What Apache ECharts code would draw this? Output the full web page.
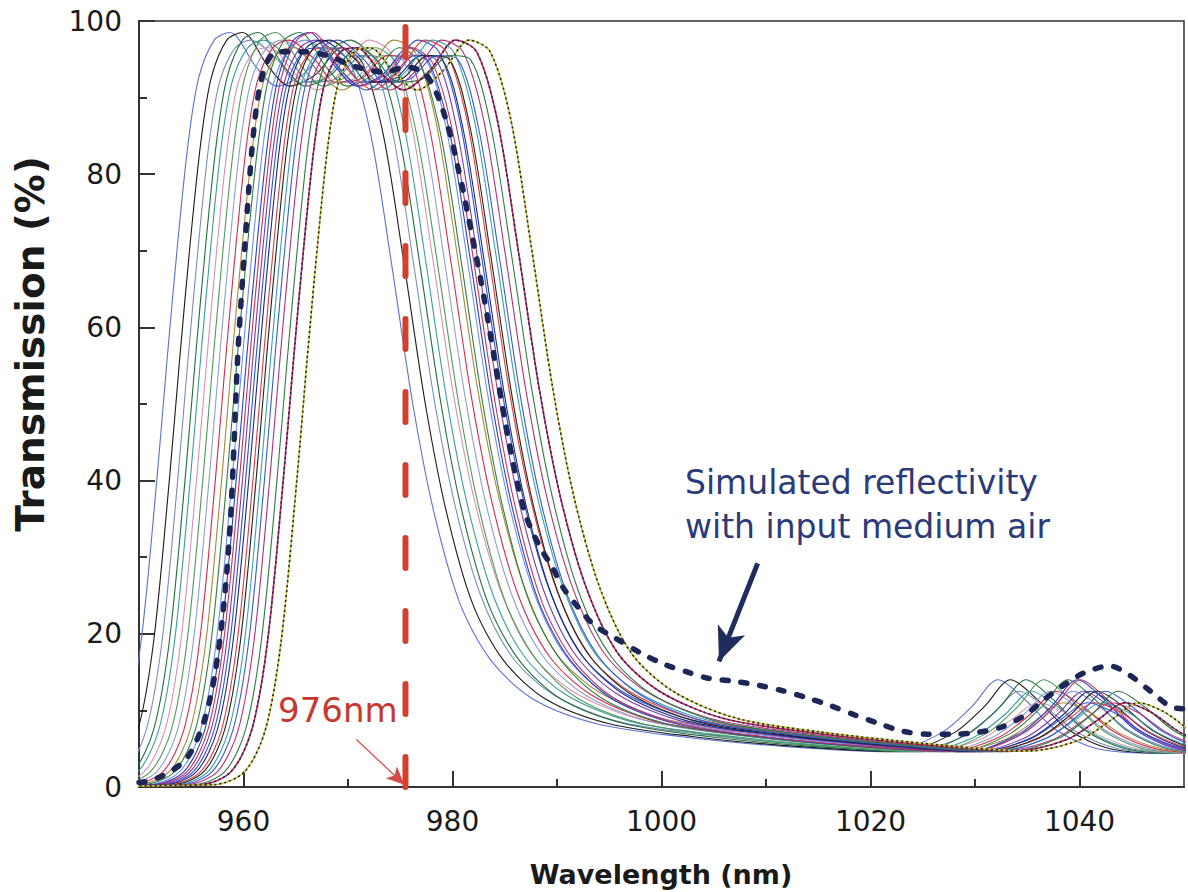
<!DOCTYPE html>
<html><head><meta charset="utf-8">
<script src="https://cdn.jsdelivr.net/npm/echarts@6/dist/echarts.min.js"></script>
<style>html,body{margin:0;padding:0;background:#fff}#c{width:1188px;height:892px}</style>
</head><body><div id="c"></div>
<script>
// Transmission profiles (T, %), three shape variants
const tA = [0.1, 0.3, 2, 7.5, 19, 40, 56, 71, 84, 92.5, 97.5, 98.5, 94, 91.5, 93, 96.5, 94.5, 85, 68, 50, 36, 24, 16.5, 11.5, 8.3, 6.6, 5.3, 4.6, 7, 10.5, 14, 11.5, 7.5, 5, 4.4, 4.5];
const tB = [0.1, 0.3, 2, 7.5, 19, 40, 56, 71, 84, 92, 96.5, 97.5, 95, 92, 92.5, 95.5, 95, 86, 69, 51, 37, 25, 17, 12, 8.6, 6.9, 5.5, 4.6, 6.5, 9.5, 12.5, 10.5, 7.2, 5, 4.4, 4.5];
const tC = [0.1, 0.3, 2, 7.5, 19, 40, 56, 71, 84, 92, 96, 96.5, 93, 91, 93.5, 97.5, 96, 87, 70, 52, 38, 26, 17.5, 12.5, 9, 7.2, 5.7, 4.7, 6.2, 8.8, 11, 9.8, 7, 5, 4.4, 4.5];

// Wavelengths (nm) of each measured curve at the profile points
const lam01 = [940, 943.7, 946.7, 948.7, 950.2, 951.7, 952.7, 953.7, 954.7, 955.7, 957.2, 958.7, 961.2, 963.2, 965.7, 968.2, 970.2, 972.2, 974.2, 976.2, 978.2, 980.7, 983.7, 987.7, 993.7, 1001.7, 1011.7, 1021.7, 1026.7, 1029.7, 1032.2, 1034.7, 1037.7, 1041.7, 1047.7, 1065];
const lam02 = [940, 944.9, 947.9, 949.9, 951.4, 952.9, 953.9, 954.9, 955.9, 956.9, 958.4, 959.9, 962.4, 964.4, 966.9, 969.4, 971.4, 973.4, 975.4, 977.4, 979.4, 981.9, 984.9, 988.9, 994.9, 1002.9, 1012.9, 1022.9, 1027.9, 1030.9, 1033.4, 1035.9, 1038.9, 1042.9, 1048.9, 1065];
const lam03 = [940, 945.7, 948.7, 950.7, 952.2, 953.7, 954.7, 955.7, 956.7, 957.7, 959.2, 960.7, 963.2, 965.2, 967.7, 970.2, 972.2, 974.2, 976.2, 978.2, 980.2, 982.7, 985.7, 989.7, 995.7, 1003.7, 1013.7, 1023.7, 1028.7, 1031.7, 1034.2, 1036.7, 1039.7, 1043.7, 1049.7, 1065];
const lam04 = [940, 946.4, 949.4, 951.4, 952.9, 954.4, 955.4, 956.4, 957.4, 958.4, 959.9, 961.4, 963.9, 965.9, 968.4, 970.9, 972.9, 974.9, 976.9, 978.9, 980.9, 983.4, 986.4, 990.4, 996.4, 1004.4, 1014.4, 1024.4, 1029.4, 1032.4, 1034.9, 1037.4, 1040.4, 1044.4, 1050.4, 1065];
const lam05 = [940, 946.9, 949.9, 951.9, 953.4, 954.9, 955.9, 956.9, 957.9, 958.9, 960.4, 961.9, 964.4, 966.4, 968.9, 971.4, 973.4, 975.4, 977.4, 979.4, 981.4, 983.9, 986.9, 990.9, 996.9, 1004.9, 1014.9, 1024.9, 1029.9, 1032.9, 1035.4, 1037.9, 1040.9, 1044.9, 1050.9, 1065];
const lam06 = [940, 947.5, 950.5, 952.5, 954.0, 955.5, 956.5, 957.5, 958.5, 959.5, 961.0, 962.5, 965.0, 967.0, 969.5, 972.0, 974.0, 976.0, 978.0, 980.0, 982.0, 984.5, 987.5, 991.5, 997.5, 1005.5, 1015.5, 1025.5, 1030.5, 1033.5, 1036.0, 1038.5, 1041.5, 1045.5, 1051.5, 1065];
const lam07 = [940, 948.1, 951.1, 953.1, 954.6, 956.1, 957.1, 958.1, 959.1, 960.1, 961.6, 963.1, 965.6, 967.6, 970.1, 972.6, 974.6, 976.6, 978.6, 980.6, 982.6, 985.1, 988.1, 992.1, 998.1, 1006.1, 1016.1, 1026.1, 1031.1, 1034.1, 1036.6, 1039.1, 1042.1, 1046.1, 1052.1, 1065];
const lam08 = [940, 948.7, 951.7, 953.7, 955.2, 956.7, 957.7, 958.7, 959.7, 960.7, 962.2, 963.7, 966.2, 968.2, 970.7, 973.2, 975.2, 977.2, 979.2, 981.2, 983.2, 985.7, 988.7, 992.7, 998.7, 1006.7, 1016.7, 1026.7, 1031.7, 1034.7, 1037.2, 1039.7, 1042.7, 1046.7, 1052.7, 1065];
const lam09 = [940, 949.3, 952.3, 954.3, 955.8, 957.3, 958.3, 959.3, 960.3, 961.3, 962.8, 964.3, 966.8, 968.8, 971.3, 973.8, 975.8, 977.8, 979.8, 981.8, 983.8, 986.3, 989.3, 993.3, 999.3, 1007.3, 1017.3, 1027.3, 1032.3, 1035.3, 1037.8, 1040.3, 1043.3, 1047.3, 1053.3, 1065];
const lam10 = [940, 949.9, 952.9, 954.9, 956.4, 957.9, 958.9, 959.9, 960.9, 961.9, 963.4, 964.9, 967.4, 969.4, 971.9, 974.4, 976.4, 978.4, 980.4, 982.4, 984.4, 986.9, 989.9, 993.9, 999.9, 1007.9, 1017.9, 1027.9, 1032.9, 1035.9, 1038.4, 1040.9, 1043.9, 1047.9, 1053.9, 1065];
const lam11 = [940, 950.4, 953.4, 955.4, 956.9, 958.4, 959.4, 960.4, 961.4, 962.4, 963.9, 965.4, 967.9, 969.9, 972.4, 974.9, 976.9, 978.9, 980.9, 982.9, 984.9, 987.4, 990.4, 994.4, 1000.4, 1008.4, 1018.4, 1028.4, 1033.4, 1036.4, 1038.9, 1041.4, 1044.4, 1048.4, 1054.4, 1065];
const lam12 = [940, 950.9, 953.9, 955.9, 957.4, 958.9, 959.9, 960.9, 961.9, 962.9, 964.4, 965.9, 968.4, 970.4, 972.9, 975.4, 977.4, 979.4, 981.4, 983.4, 985.4, 987.9, 990.9, 994.9, 1000.9, 1008.9, 1018.9, 1028.9, 1033.9, 1036.9, 1039.4, 1041.9, 1044.9, 1048.9, 1054.9, 1065];
const lam13 = [940, 951.3, 954.3, 956.3, 957.8, 959.3, 960.3, 961.3, 962.3, 963.3, 964.8, 966.3, 968.8, 970.8, 973.3, 975.8, 977.8, 979.8, 981.8, 983.8, 985.8, 988.3, 991.3, 995.3, 1001.3, 1009.3, 1019.3, 1029.3, 1034.3, 1037.3, 1039.8, 1042.3, 1045.3, 1049.3, 1055.3, 1065];
const lam14 = [940, 951.6, 954.6, 956.6, 958.1, 959.6, 960.6, 961.6, 962.6, 963.6, 965.1, 966.6, 969.1, 971.1, 973.6, 976.1, 978.1, 980.1, 982.1, 984.1, 986.1, 988.6, 991.6, 995.6, 1001.6, 1009.6, 1019.6, 1029.6, 1034.6, 1037.6, 1040.1, 1042.6, 1045.6, 1049.6, 1055.6, 1065];
const lam15 = [940, 951.9, 954.9, 956.9, 958.4, 959.9, 960.9, 961.9, 962.9, 963.9, 965.4, 966.9, 969.4, 971.4, 973.9, 976.4, 978.4, 980.4, 982.4, 984.4, 986.4, 988.9, 991.9, 995.9, 1001.9, 1009.9, 1019.9, 1029.9, 1034.9, 1037.9, 1040.4, 1042.9, 1045.9, 1049.9, 1055.9, 1065];
const lam16 = [940, 952.2, 955.2, 957.2, 958.7, 960.2, 961.2, 962.2, 963.2, 964.2, 965.7, 967.2, 969.7, 971.7, 974.2, 976.7, 978.7, 980.7, 982.7, 984.7, 986.7, 989.2, 992.2, 996.2, 1002.2, 1010.2, 1020.2, 1030.2, 1035.2, 1038.2, 1040.7, 1043.2, 1046.2, 1050.2, 1056.2, 1065];
const lam17 = [940, 952.5, 955.5, 957.5, 959.0, 960.5, 961.5, 962.5, 963.5, 964.5, 966.0, 967.5, 970.0, 972.0, 974.5, 977.0, 979.0, 981.0, 983.0, 985.0, 987.0, 989.5, 992.5, 996.5, 1002.5, 1010.5, 1020.5, 1030.5, 1035.5, 1038.5, 1041.0, 1043.5, 1046.5, 1050.5, 1056.5, 1065];
const lam18 = [940, 952.9, 955.9, 957.9, 959.4, 960.9, 961.9, 962.9, 963.9, 964.9, 966.4, 967.9, 970.4, 972.4, 974.9, 977.4, 979.4, 981.4, 983.4, 985.4, 987.4, 989.9, 992.9, 996.9, 1002.9, 1010.9, 1020.9, 1030.9, 1035.9, 1038.9, 1041.4, 1043.9, 1046.9, 1050.9, 1056.9, 1065];
const lam19 = [940, 953.2, 956.2, 958.2, 959.7, 961.2, 962.2, 963.2, 964.2, 965.2, 966.7, 968.2, 970.7, 972.7, 975.2, 977.7, 979.7, 981.7, 983.7, 985.7, 987.7, 990.2, 993.2, 997.2, 1003.2, 1011.2, 1021.2, 1031.2, 1036.2, 1039.2, 1041.7, 1044.2, 1047.2, 1051.2, 1057.2, 1065];
const lam20 = [940, 953.6, 956.6, 958.6, 960.1, 961.6, 962.6, 963.6, 964.6, 965.6, 967.1, 968.6, 971.1, 973.1, 975.6, 978.1, 980.1, 982.1, 984.1, 986.1, 988.1, 990.6, 993.6, 997.6, 1003.6, 1011.6, 1021.6, 1031.6, 1036.6, 1039.6, 1042.1, 1044.6, 1047.6, 1051.6, 1057.6, 1065];
const lam21 = [940, 954.0, 957.0, 959.0, 960.5, 962.0, 963.0, 964.0, 965.0, 966.0, 967.5, 969.0, 971.5, 973.5, 976.0, 978.5, 980.5, 982.5, 984.5, 986.5, 988.5, 991.0, 994.0, 998.0, 1004.0, 1012.0, 1022.0, 1032.0, 1037.0, 1040.0, 1042.5, 1045.0, 1048.0, 1052.0, 1058.0, 1065];
const lam22 = [940, 954.5, 957.5, 959.5, 961.0, 962.5, 963.5, 964.5, 965.5, 966.5, 968.0, 969.5, 972.0, 974.0, 976.5, 979.0, 981.0, 983.0, 985.0, 987.0, 989.0, 991.5, 994.5, 998.5, 1004.5, 1012.5, 1022.5, 1032.5, 1037.5, 1040.5, 1043.0, 1045.5, 1048.5, 1052.5, 1058.5, 1065];
const lam23 = [940, 955.2, 958.2, 960.2, 961.7, 963.2, 964.2, 965.2, 966.2, 967.2, 968.7, 970.2, 972.7, 974.7, 977.2, 979.7, 981.7, 983.7, 985.7, 987.7, 989.7, 992.2, 995.2, 999.2, 1005.2, 1013.2, 1023.2, 1033.2, 1038.2, 1041.2, 1043.7, 1046.2, 1049.2, 1053.2, 1059.2, 1065];
const lam24 = [940, 955.8, 958.8, 960.8, 962.3, 963.8, 964.8, 965.8, 966.8, 967.8, 969.3, 970.8, 973.3, 975.3, 977.8, 980.3, 982.3, 984.3, 986.3, 988.3, 990.3, 992.8, 995.8, 999.8, 1005.8, 1013.8, 1023.8, 1033.8, 1038.8, 1041.8, 1044.3, 1046.8, 1049.8, 1053.8, 1059.8, 1065];
const lam25 = [940, 957.1, 960.1, 962.1, 963.6, 965.1, 966.1, 967.1, 968.1, 969.1, 970.6, 972.1, 974.6, 976.6, 979.1, 981.6, 983.6, 985.6, 987.6, 989.6, 991.6, 994.1, 997.1, 1001.1, 1007.1, 1015.1, 1025.1, 1035.1, 1040.1, 1043.1, 1045.6, 1048.1, 1051.1, 1055.1, 1061.1, 1065];

// Simulated reflectivity (dashed)
const simLam = [950, 951, 952, 953, 954, 954.8, 955.5, 956.2, 956.8, 957.3, 957.9, 958.4, 958.8, 959.1, 959.4, 959.7, 960.1, 960.5, 961, 961.5, 962.2, 963.2, 965.5, 968, 970.3, 972, 973.5, 975.5, 977.3, 978.5, 979.4, 980, 980.5, 981, 981.5, 982.1, 983, 984, 985, 986, 987, 988.3, 989.5, 990.7, 992, 993.5, 995.5, 998, 1000.3, 1002.5, 1004.5, 1007, 1009.2, 1011.5, 1013.8, 1016.2, 1018.5, 1020.8, 1023, 1025.4, 1027.8, 1030.1, 1032.5, 1034.8, 1036.7, 1038.6, 1040.6, 1042.9, 1044.8, 1046.8, 1048.7, 1050];
const simT = [0.6, 0.8, 1.3, 2, 3, 4.2, 6, 8.5, 11.5, 15, 21, 28, 36, 45, 55, 62, 70, 78, 86, 91, 94.5, 96, 96, 95.5, 94.2, 93.6, 93.3, 94, 93.2, 90.5, 87, 84, 81, 78, 74.5, 70.5, 64, 56, 48, 41, 35.5, 31.5, 28.8, 25.8, 23.5, 21.2, 19.5, 17.5, 16, 15, 14.2, 13.8, 13.3, 12.6, 11.7, 10.6, 9.4, 8.3, 7.3, 6.9, 6.9, 7.1, 7.8, 9.4, 11.5, 13.4, 15, 15.8, 14.6, 12.5, 10.5, 10.2];

const markerLam = [975.5, 975.5];
const markerT = [0, 100];
const redArrow = [[970.8, 6.2], [975.4, 0.3]];
const navyArrow = [[1009.2, 29.2], [1005.5, 16.4]];

const xMajorTicks = [960, 980, 1000, 1020, 1040];
const xMinorTicks = [970, 990, 1010, 1030];

const curves = [
  {lam: lam01, t: tA, color: '#5b6fd8'},
  {lam: lam02, t: tA, color: '#1a1a1a'},
  {lam: lam03, t: tB, color: '#7c8fb8'},
  {lam: lam04, t: tA, color: '#1f6e3b'},
  {lam: lam05, t: tB, color: '#3a9c9c'},
  {lam: lam06, t: tC, color: '#d593b0'},
  {lam: lam07, t: tA, color: '#4f9a5a'},
  {lam: lam08, t: tB, color: '#8f9fc8'},
  {lam: lam09, t: tB, color: '#d42a4a'},
  {lam: lam10, t: tC, color: '#a8883a'},
  {lam: lam11, t: tA, color: '#2e7d45'},
  {lam: lam12, t: tB, color: '#6f8fe8'},
  {lam: lam13, t: tA, color: '#2340c8'},
  {lam: lam14, t: tA, color: '#c8305a'},
  {lam: lam15, t: tB, color: '#7a3ca8'},
  {lam: lam16, t: tC, color: '#3050d8'},
  {lam: lam17, t: tB, color: '#1a2a80'},
  {lam: lam18, t: tC, color: '#e03a3a'},
  {lam: lam19, t: tB, color: '#222222'},
  {lam: lam20, t: tC, color: '#3aa0a8'},
  {lam: lam21, t: tB, color: '#3a5ad0'},
  {lam: lam22, t: tC, color: '#b0307a'},
  {lam: lam23, t: tB, color: '#2f7a3f'},
  {lam: lam24, t: tC, color: '#c4204a', overlay: '#1a2a60'},
  {lam: lam25, t: tC, color: '#c9c440', overlay: '#222222'}
];

const zip = (xs, ys) => xs.map((x, i) => [x, ys[i]]);
const series = [];
curves.forEach(c => {
  const d = zip(c.lam, c.t);
  series.push({type: 'line', data: d, smooth: 0.3, symbol: 'none', silent: true,
    lineStyle: {color: c.color, width: c.overlay ? 1.6 : 1.1}});
  if (c.overlay) series.push({type: 'line', data: d, smooth: 0.3, symbol: 'none', silent: true,
    lineStyle: {color: c.overlay, width: 1.6, type: [2, 3]}});
});
series.push({type: 'line', data: zip(simLam, simT), smooth: 0.3, symbol: 'none', silent: true,
  lineStyle: {color: '#1d2757', width: 5.5, type: [6, 13], cap: 'round'}});
series.push({type: 'line', data: zip(markerLam, markerT), symbol: 'none', silent: true,
  lineStyle: {color: '#d2412e', width: 6, type: [30, 43], cap: 'round'}});
series.push({type: 'line', data: [], silent: true,
  markLine: {silent: true, animation: false, symbol: ['none', 'arrow'], symbolSize: [12, 18], label: {show: false},
    lineStyle: {color: '#d84a48', width: 1.2, type: 'solid'},
    data: [[{coord: redArrow[0]}, {coord: redArrow[1]}]]}});
series.push({type: 'line', data: [], silent: true,
  markLine: {silent: true, animation: false, symbol: ['none', 'arrow'], symbolSize: [22, 34], label: {show: false},
    lineStyle: {color: '#1f2d5e', width: 5, type: 'solid'},
    data: [[{coord: navyArrow[0]}, {coord: navyArrow[1]}]]}});

const axisFont = {fontFamily: 'DejaVu Sans', fontSize: 28, color: '#1a1a1a'};
const chart = echarts.init(document.getElementById('c'), null, {renderer: 'svg'});
chart.setOption({
  animation: false,
  backgroundColor: '#ffffff',
  grid: {left: 139, right: 4, top: 21, bottom: 105, show: true, borderColor: '#333', borderWidth: 1.5,
    containLabel: false, outerBoundsMode: 'none'},
  xAxis: [
    {type: 'value', min: 950, max: 1050, interval: 10,
      axisLine: {show: true, onZero: false, lineStyle: {color: '#333', width: 2}},
      axisTick: {show: true, inside: true, length: 16, customValues: xMajorTicks, lineStyle: {color: '#333', width: 2}},
      axisLabel: Object.assign({margin: 20, customValues: xMajorTicks, formatter: v => String(v)}, axisFont),
      splitLine: {show: false}},
    {type: 'value', min: 950, max: 1050, interval: 10, position: 'bottom',
      axisLine: {show: false},
      axisTick: {show: true, inside: true, length: 8, customValues: xMinorTicks, lineStyle: {color: '#333', width: 2}},
      axisLabel: {show: false}, splitLine: {show: false}}
  ],
  yAxis: {type: 'value', min: 0, max: 100, interval: 20,
    axisLine: {show: true, onZero: false, lineStyle: {color: '#333', width: 2}},
    axisTick: {show: true, inside: true, length: 16, lineStyle: {color: '#333', width: 2}},
    minorTick: {show: true, splitNumber: 2, length: 8, lineStyle: {color: '#333', width: 2}},
    axisLabel: Object.assign({margin: 17}, axisFont),
    splitLine: {show: false}},
  graphic: [
    {type: 'text', x: 661, y: 874, silent: true, style: {text: 'Wavelength (nm)', font: 'bold 27px "DejaVu Sans"', fill: '#1a1a1a', textAlign: 'center', textVerticalAlign: 'middle'}},
    {type: 'text', x: 30, y: 344, rotation: Math.PI / 2, silent: true, style: {text: 'Transmission (%)', font: 'bold 39px "DejaVu Sans"', fill: '#1a1a1a', textAlign: 'center', textVerticalAlign: 'middle'}},
    {type: 'text', x: 278, y: 710, silent: true, style: {text: '976nm', font: '34px "DejaVu Sans"', fill: '#c8372d', textAlign: 'left', textVerticalAlign: 'middle'}},
    {type: 'text', x: 685, y: 482, silent: true, style: {text: 'Simulated reflectivity', font: '33px "DejaVu Sans"', fill: '#2b3a78', textAlign: 'left', textVerticalAlign: 'middle'}},
    {type: 'text', x: 685, y: 526, silent: true, style: {text: 'with input medium air', font: '33px "DejaVu Sans"', fill: '#2b3a78', textAlign: 'left', textVerticalAlign: 'middle'}}
  ],
  series: series
});
</script></body></html>
